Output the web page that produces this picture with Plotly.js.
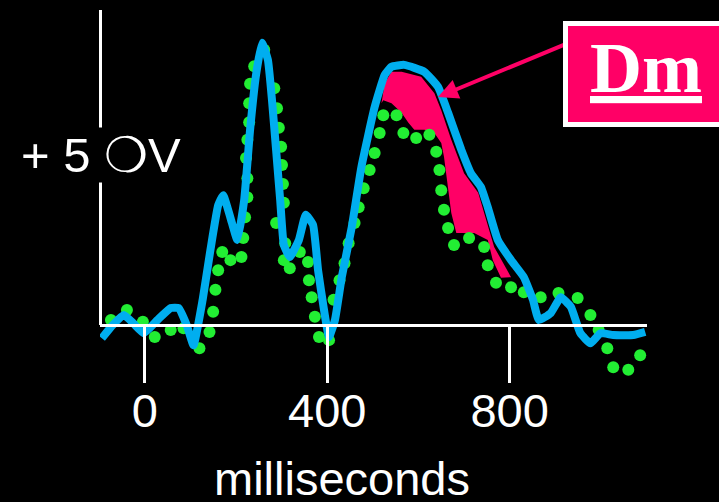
<!DOCTYPE html>
<html>
<head>
<meta charset="utf-8">
<script src="https://cdn.plot.ly/plotly-3.0.1.min.js"></script>
<style>html,body{margin:0;padding:0;background:#000;}#chart{width:719px;height:502px;}</style>
</head>
<body>
<div id="chart"></div>
<script>
// Condition 1 (solid blue) - milliseconds / microvolts
const msBlue = [-94,-70,-46,-24,-2,28,57,74,92,107,127,144,161,172,188,203,218,231,244,257,270,279,288,297,305,318,338,353,369,380,393,404,417,432,454,475,504,526,541,569,613,643,665,694,715,737,752,774,803,831,851,864,890,912,934,955,977,999,1027,1071,1097];
const uvBlue = [-0.21,0,0.16,0.02,-0.13,0.08,0.27,0.27,0,-0.32,0.40,1.19,1.90,2.06,1.70,1.35,1.98,3.10,3.97,4.48,4.21,3.57,2.78,1.98,1.27,1.08,1.35,1.75,1.59,0.87,0.24,-0.19,0.08,0.76,1.56,2.51,3.46,3.97,4.10,4.13,4.02,3.78,3.37,2.78,2.41,2.19,1.87,1.35,1.03,0.76,0.40,0.08,0.19,0.44,0.29,-0.13,-0.29,-0.13,-0.16,-0.16,-0.11];

// Condition 2 (dotted green) - sampled points
const msGreen = [-103,-74,-39,-4,22,57,85,120,142,150,155,161,170,188,212,216,220,225,225,222,225,229,229,231,240,262,284,290,294,299,301,303,305,288,308,305,318,340,358,360,366,373,382,404,414,427,438,447,460,469,480,493,504,515,523,552,567,595,624,639,646,650,656,665,678,711,744,752,770,803,831,868,907,949,977,995,1014,1027,1060,1086];
const uvGreen = [-0.11,0.08,0.24,0.05,-0.19,-0.08,-0.05,-0.37,-0.11,0.21,0.56,0.87,1.16,1.03,1.08,1.38,1.71,2.03,2.33,2.65,2.94,3.22,3.52,3.83,4.11,4.37,3.76,3.44,3.13,2.83,2.54,2.24,1.94,1.62,1.30,1.03,0.90,1.16,1.00,0.71,0.44,0.13,-0.19,-0.24,0.40,0.71,0.98,1.30,1.62,1.87,2.17,2.46,2.73,3.05,3.33,3.33,3.05,2.97,3.02,2.75,2.46,2.14,1.83,1.54,1.27,1.38,1.24,0.95,0.67,0.60,0.52,0.44,0.51,0.43,0.16,-0.08,-0.37,-0.67,-0.71,-0.48];

// Dm difference region outline
const msDm = [526,541,563,606,635,650,672,700,731,752,766,803,781,763,752,722,683,672,665,656,650,635,613,591,578,563,541,523,519];
const uvDm = [3.84,4.02,4.02,3.94,3.68,3.41,2.94,2.41,2.10,1.56,1.24,0.76,0.75,1.03,1.35,1.46,1.46,1.78,2.19,2.67,2.89,3.05,3.10,3.10,3.21,3.37,3.52,3.57,3.52];

const tickVals = [0, 400, 800];
const tickText = ['0', '400', '800'];
const xTitle = 'milliseconds';
const yLabel = '+ 5 \u274DV';
const dmLabel = 'Dm';

const W = 719, H = 502;
const white = '#FFFFFF', blue = '#00AEEF', green = '#22EE33', pink = '#FF0066';
const sans = 'Liberation Sans, Arial, sans-serif';
const xRange = [-98, 1101];

const traces = [
  {x: msDm, y: uvDm, type: 'scatter', mode: 'lines', fill: 'toself', fillcolor: pink,
   line: {width: 0, color: pink}, hoverinfo: 'skip'},
  {x: msGreen, y: uvGreen, type: 'scatter', mode: 'markers', cliponaxis: false,
   marker: {size: 12, color: green, line: {width: 0}}},
  {x: msBlue, y: uvBlue, type: 'scatter', mode: 'lines',
   line: {color: blue, width: 8, shape: 'spline', smoothing: 0.4}},
  {x: [], y: [], xaxis: 'x', yaxis: 'y2', type: 'scatter', mode: 'lines'},
  {x: [], y: [], xaxis: 'x2', yaxis: 'y', type: 'scatter', mode: 'lines'}
];

const layout = {
  width: W, height: H,
  margin: {l: 0, r: 0, t: 0, b: 0, pad: 0},
  paper_bgcolor: '#000', plot_bgcolor: 'rgba(0,0,0,0)',
  showlegend: false,
  xaxis: {
    domain: [100 / W, 647 / W], range: xRange,
    anchor: 'free', position: 177 / H,
    showline: true, linecolor: white, linewidth: 3,
    ticks: 'outside', ticklen: 56, tickwidth: 3, tickcolor: white,
    tickvals: tickVals, ticktext: tickText, showticklabels: false,
    showgrid: false, zeroline: false, automargin: false, fixedrange: true
  },
  xaxis2: {
    overlaying: 'x', range: xRange,
    anchor: 'free', position: 177 / H,
    showline: false, ticks: 'outside', ticklen: 45, tickwidth: 0, tickcolor: 'rgba(0,0,0,0)',
    tickvals: tickVals, ticktext: tickText,
    tickfont: {family: sans, size: 47, color: white},
    showgrid: false, zeroline: false, automargin: false, fixedrange: true
  },
  yaxis: {domain: [0, 1], range: [-2.81, 5.16], visible: false, fixedrange: true},
  yaxis2: {
    domain: [177 / H, 492 / H], range: [0, 5], anchor: 'free', position: 100 / W,
    showline: true, linecolor: white, linewidth: 3, ticks: '', showticklabels: false,
    showgrid: false, zeroline: false, fixedrange: true
  },
  annotations: [
    {xref: 'paper', yref: 'paper', x: 101 / W, y: 1 - 155 / H, xanchor: 'center', yanchor: 'middle',
     text: yLabel, showarrow: false, bgcolor: '#000', borderpad: 0,
     font: {family: sans, size: 49, color: white}},
    {xref: 'paper', yref: 'paper', x: 342 / W, y: 1 - 478 / H, xanchor: 'center', yanchor: 'middle',
     text: xTitle, showarrow: false, font: {family: sans, size: 47, color: white}},
    {xref: 'paper', yref: 'paper', x: 438 / W, y: 1 - 97 / H, text: '', showarrow: true,
     ax: 140, ay: -58, arrowhead: 2, arrowsize: 1, arrowwidth: 4, arrowcolor: pink},
    {xref: 'paper', yref: 'paper', x: 563 / W, y: 1 - 21 / H, xanchor: 'left', yanchor: 'top',
     text: '', showarrow: false,
     bgcolor: pink, bordercolor: white, borderwidth: 5, borderpad: 0, width: 200, height: 96},
    {xref: 'paper', yref: 'paper', x: 645.5 / W, y: 1 - 68 / H, xanchor: 'center', yanchor: 'middle',
     text: '<b><u>' + dmLabel + '</u></b>', showarrow: false,
     font: {family: 'Liberation Serif, Times New Roman, serif', size: 72, color: white}}
  ]
};

Plotly.newPlot('chart', traces, layout, {displayModeBar: false, staticPlot: true});
</script>
</body>
</html>
